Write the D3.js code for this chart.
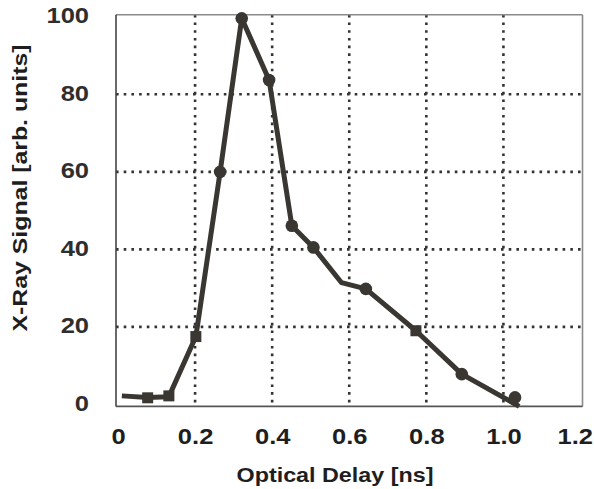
<!DOCTYPE html>
<html>
<head>
<meta charset="utf-8">
<script src="https://cdn.jsdelivr.net/npm/d3@7"></script>
<style>
  html, body { margin: 0; padding: 0; background: #fff; }
  svg { display: block; font-family: "Liberation Sans", Arial, sans-serif; }
</style>
</head>
<body>
<svg id="chart" width="594" height="489"></svg>
<script>
// Connecting trace: optical delay (ns) vs X-ray signal (arb. units)
const traceDelay  = [0.010, 0.077, 0.132, 0.202, 0.265, 0.321, 0.392, 0.451, 0.507, 0.580, 0.643, 0.773, 0.892, 1.041];
const traceSignal = [2.2,   1.8,   2.0,   17.5,  60.0,  99.6,  83.7,  46.1,  40.5,  31.4,  29.8,  19.0,  7.8,   -0.5];

// Square markers
const squareDelay  = [0.077, 0.132, 0.202, 0.773];
const squareSignal = [1.7,   2.2,   17.5,  19.0];

// Circle markers
const circleDelay  = [0.265, 0.321, 0.392, 0.451, 0.507, 0.643, 0.892, 1.030];
const circleSignal = [60.0,  99.6,  83.7,  46.1,  40.5,  29.8,  7.8,   1.8];

// Axis ticks
const xTicks = [0, 0.2, 0.4, 0.6, 0.8, 1.0, 1.2];
const xTickLabels = ["0", "0.2", "0.4", "0.6", "0.8", "1.0", "1.2"];
const yTicks = [0, 20, 40, 60, 80, 100];
const xGrid = [0.2, 0.4, 0.6, 0.8, 1.0];
const yGrid = [20, 40, 60, 80];

const W = 594;
const ink = "#3a3631";
const svg = d3.select("#chart");

const x = d3.scaleLinear().domain([0, 1.2]).range([118, 580.5]);
const y = d3.scaleLinear().domain([0, 100]).range([404.4, 16.8]);

const [x0, x1] = x.range();
const [yb, yt] = y.range();
const pad = 2;

// Dotted grid
const grid = svg.append("g")
  .attr("stroke", "#333")
  .attr("stroke-width", 2.6)
  .attr("stroke-dasharray", "2.6 5.1");
grid.selectAll("line.v").data(xGrid).join("line")
  .attr("class", "v")
  .attr("x1", d => x(d)).attr("x2", d => x(d))
  .attr("y1", yt - pad).attr("y2", yb + pad);
grid.selectAll("line.h").data(yGrid).join("line")
  .attr("class", "h")
  .attr("x1", x0 - pad).attr("x2", x1 + pad)
  .attr("y1", d => y(d)).attr("y2", d => y(d));

// Plot frame: light top/right, dark left/bottom
svg.append("line").attr("x1", x0 - pad).attr("x2", x1 + pad).attr("y1", yt - pad).attr("y2", yt - pad)
  .attr("stroke", "#8a8a8a").attr("stroke-width", 1.6);
svg.append("line").attr("x1", x1 + pad).attr("x2", x1 + pad).attr("y1", yt - pad).attr("y2", yb + pad)
  .attr("stroke", "#8a8a8a").attr("stroke-width", 1.6);
svg.append("line").attr("x1", x0 - pad).attr("x2", x0 - pad).attr("y1", yt - pad).attr("y2", yb + pad)
  .attr("stroke", "#444").attr("stroke-width", 1.6);
svg.append("line").attr("x1", x0 - pad).attr("x2", x1 + pad).attr("y1", yb + pad).attr("y2", yb + pad)
  .attr("stroke", "#555").attr("stroke-width", 1.6);

// Trace
const line = d3.line().x(d => x(d[0])).y(d => y(d[1]));
svg.append("path")
  .datum(d3.zip(traceDelay, traceSignal))
  .attr("d", line)
  .attr("fill", "none")
  .attr("stroke", ink)
  .attr("stroke-width", 5)
  .attr("stroke-linejoin", "round");

// Markers
const sq = 11;
svg.append("g").selectAll("rect").data(d3.zip(squareDelay, squareSignal)).join("rect")
  .attr("x", d => x(d[0]) - sq / 2).attr("y", d => y(d[1]) - sq / 2)
  .attr("width", sq).attr("height", sq)
  .attr("fill", ink);
svg.append("g").selectAll("circle").data(d3.zip(circleDelay, circleSignal)).join("circle")
  .attr("cx", d => x(d[0])).attr("cy", d => y(d[1]))
  .attr("r", 6.3)
  .attr("fill", ink);

// Axes (labels only); the face is drawn slightly wide
const stretch = 1.16;
const fs = 22;
const xAxis = svg.append("g")
  .attr("transform", `translate(0,${yb})`)
  .call(d3.axisBottom(x).tickValues(xTicks).tickSize(0).tickFormat((d, i) => xTickLabels[i]));
xAxis.select(".domain").remove();
xAxis.selectAll("text")
  .attr("y", 39.5).attr("dy", null)
  .attr("font-size", fs).attr("font-weight", "bold").attr("fill", "#1e1e1e")
  .attr("font-family", "'Liberation Sans', Arial, sans-serif")
  .each(function () {
    // keep each label inside the page after stretching
    const t = d3.select(this);
    const tx = d3.select(this.parentNode).attr("transform").match(/translate\(([^,]+),/);
    const cx = tx ? +tx[1] : 0;
    const half = this.getComputedTextLength() * stretch / 2;
    const shift = Math.min(0, W - 1 - (cx + half));
    t.attr("transform", `translate(${shift},0) scale(${stretch},1)`);
  });

const yAxis = svg.append("g")
  .attr("transform", `translate(${x0},0)`)
  .call(d3.axisLeft(y).tickValues(yTicks).tickSize(0).tickFormat(d3.format("d")));
yAxis.select(".domain").remove();
yAxis.selectAll("text")
  .attr("x", -29 / stretch).attr("dy", "0.27em")
  .attr("transform", `scale(${stretch},1)`)
  .attr("font-size", fs).attr("font-weight", "bold").attr("fill", "#2e2e2e")
  .attr("font-family", "'Liberation Sans', Arial, sans-serif");

// Axis titles
svg.append("text")
  .attr("x", 335).attr("y", 482)
  .attr("text-anchor", "middle")
  .attr("font-size", 21).attr("font-weight", "bold").attr("fill", "#1e1e1e")
  .attr("textLength", 197).attr("lengthAdjust", "spacingAndGlyphs")
  .text("Optical Delay [ns]");

svg.append("text")
  .attr("transform", "translate(27,188) rotate(-90)")
  .attr("text-anchor", "middle")
  .attr("font-size", 21).attr("font-weight", "bold").attr("fill", "#1e1e1e")
  .attr("textLength", 287).attr("lengthAdjust", "spacingAndGlyphs")
  .text("X-Ray Signal [arb. units]");
</script>
</body>
</html>
